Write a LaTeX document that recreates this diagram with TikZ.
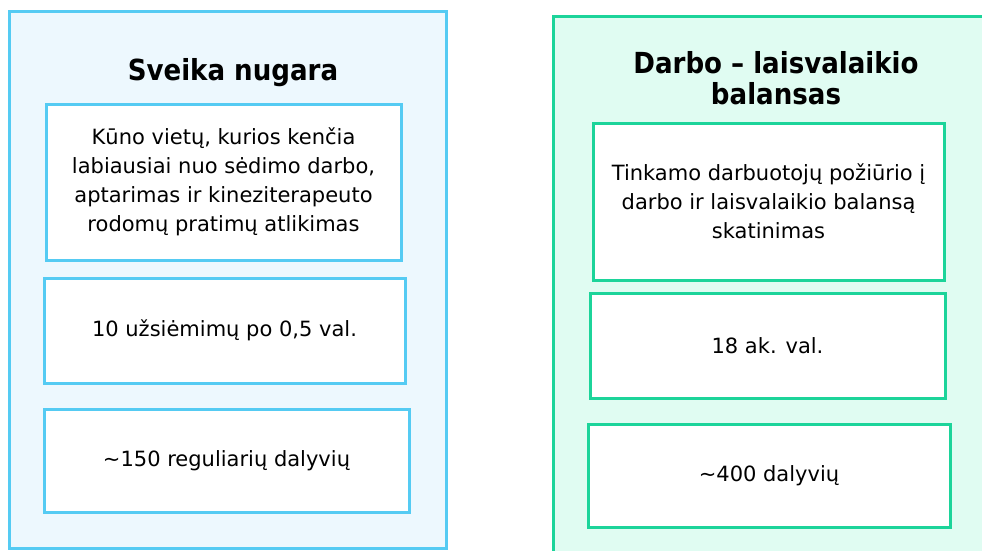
\documentclass[tikz,border=0pt]{standalone}
\usepackage{fontspec}
\setmainfont{DejaVu Sans}
\newfontfamily\headfont{DejaVu Sans Condensed}
\usepackage{xcolor}
\definecolor{skyline}{HTML}{55CBF3}
\definecolor{skyfill}{HTML}{EDF8FE}
\definecolor{mintline}{HTML}{1CD49A}
\definecolor{mintfill}{HTML}{E0FCF2}
\tikzset{
  item/.style={draw=#1,line width=3pt,fill=white,align=center,inner sep=0pt,
    font=\fontsize{21}{29}\selectfont},
  head/.style={align=center,font=\headfont\bfseries\fontsize{29}{31}\selectfont},
}

\begin{document}
\begin{tikzpicture}[x=1pt,y=-1pt]
  \useasboundingbox (0,0) rectangle (982,550);
  \draw[skyline,fill=skyfill,line width=3pt] (9,11) rectangle (446,548);
  \draw[mintline,fill=mintfill,line width=3pt] (553,16) rectangle (995,565);
  \node[head] (backHead) at (233,73) {Sveika nugara};
  \node[head] (balanceHead) at (776,78) {Darbo – laisvalaikio\\balansas};
  \node[item=skyline,minimum width=355,minimum height=156] (backWhat) at (223.5,182)
    {Kūno vietų, kurios kenčia\\labiausiai nuo sėdimo darbo,\\aptarimas ir kineziterapeuto\\rodomų pratimų atlikimas};
  \node[item=skyline,minimum width=361,minimum height=105] (backTime) at (224.5,330.5)
    {10 užsiėmimų po 0,5 val.};
  \node[item=skyline,minimum width=365,minimum height=103] (backPeople) at (226.5,460.5)
    {\textasciitilde150 reguliarių dalyvių};
  \node[item=mintline,minimum width=351,minimum height=157] (balanceWhat) at (768.5,201.5)
    {Tinkamo darbuotojų požiūrio į\\darbo ir laisvalaikio balansą\\skatinimas};
  \node[item=mintline,minimum width=355,minimum height=105] (balanceTime) at (767.5,345.5)
    {18 ak. val.};
  \node[item=mintline,minimum width=362,minimum height=103] (balancePeople) at (769,475.5)
    {\textasciitilde400 dalyvių};
\end{tikzpicture}
\end{document}
